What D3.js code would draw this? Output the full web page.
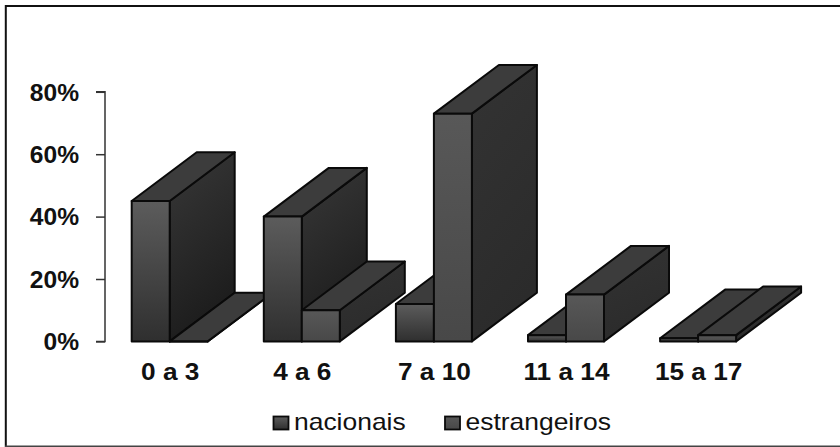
<!DOCTYPE html>
<html>
<head>
<meta charset="utf-8">
<script src="https://cdnjs.cloudflare.com/ajax/libs/d3/7.8.5/d3.min.js"></script>
<style>
  html, body { margin: 0; padding: 0; background: #fff; }
  svg { display: block; }
  text { font-family: "Liberation Sans", Arial, sans-serif; fill: #111; }
</style>
</head>
<body>
<svg id="chart" width="840" height="447"></svg>
<script>
const ageGroups = ["0 a 3", "4 a 6", "7 a 10", "11 a 14", "15 a 17"];
const seriesNames = ["nacionais", "estrangeiros"];
const nacionais = [45, 40, 12, 2, 1];
const estrangeiros = [0, 10, 73, 15, 2];
const yTicks = [0, 20, 40, 60, 80];

const svg = d3.select("#chart");
const defs = svg.append("defs");

// Vertical shading of the front faces, and diagonal shading of the side faces.
function addGradient(id, stops, x2, y2) {
  const g = defs.append("linearGradient").attr("id", id)
    .attr("x1", 0).attr("y1", 0).attr("x2", x2).attr("y2", y2);
  stops.forEach(([o, c]) => g.append("stop").attr("offset", o).attr("stop-color", c));
}
addGradient("frontNac", [[0, "#5c5c5c"], [1, "#2f2f2f"]], 0, 1);
addGradient("frontEst", [[0, "#585858"], [1, "#484848"]], 0, 1);
addGradient("sideNac", [[0, "#383838"], [1, "#1c1c1c"]], 0.3, 1);
addGradient("sideEst", [[0, "#333333"], [1, "#2b2b2b"]], 0.3, 1);

// Outer frame: left, top and bottom rules
svg.append("path").attr("d", "M841,6H5.8V447")
  .attr("fill", "none").attr("stroke", "#111").attr("stroke-width", 2);
svg.append("path").attr("d", "M5,446.3H840")
  .attr("fill", "none").attr("stroke", "#444").attr("stroke-width", 1.6);

const y = d3.scaleLinear().domain([0, 80]).range([341.4, 91.8]);
const x0 = d3.scaleLinear().domain([0, ageGroups.length]).range([131.7, 131.7 + 132.1 * ageGroups.length]);
const barW = 38;
const depthX = 65;
const depthY = 48.7;

// Y axis with outward ticks; labels are set slightly wide
const yAxis = d3.axisLeft(y).tickValues(yTicks).tickFormat(d => d + "%").tickSize(9).tickPadding(17);
const axisG = svg.append("g").attr("transform", "translate(105,0)").call(yAxis);
axisG.selectAll("path, line").attr("stroke", "#333").attr("stroke-width", 1.5);
axisG.select(".domain").attr("d", `M-9,${y(80)}H0V${y(0)}H-9`);
axisG.selectAll("text").attr("font-size", 23).attr("font-weight", "bold")
  .attr("x", 0).attr("dy", "0.36em")
  .attr("transform", "translate(-26,0) scale(1.07,1)")
  .style("font-family", '"Liberation Sans", Arial, sans-serif');

// One extruded bar: side and top faces first, then the front face.
function drawBar(g, left, value, frontFill, sideFill) {
  const line = d3.line();
  const top = y(value), base = y(0), right = left + barW;
  const faces = [
    { pts: [[right, top], [right + depthX, top - depthY], [right + depthX, base - depthY], [right, base]], fill: sideFill },
    { pts: [[left, top], [left + depthX, top - depthY], [right + depthX, top - depthY], [right, top]], fill: "#3c3c3c" },
    { pts: [[left, top], [right, top], [right, base], [left, base]], fill: frontFill }
  ];
  g.selectAll(null).data(faces).join("path")
    .attr("d", d => line(d.pts) + "Z")
    .attr("fill", d => d.fill)
    .attr("stroke", "#0a0a0a")
    .attr("stroke-width", 2)
    .attr("stroke-linejoin", "round");
}

const bars = svg.append("g");
ageGroups.forEach((_, i) => {
  drawBar(bars.append("g"), x0(i), nacionais[i], "url(#frontNac)", "url(#sideNac)");
  drawBar(bars.append("g"), x0(i) + barW, estrangeiros[i], "url(#frontEst)", "url(#sideEst)");
});

// Category labels, set wide
svg.append("g").selectAll("text").data(ageGroups).join("text")
  .attr("transform", (d, i) => `translate(${x0(i) + barW + 0.5},380) scale(1.14,1)`)
  .attr("text-anchor", "middle")
  .attr("font-size", 23)
  .attr("font-weight", "bold")
  .text(d => d);

// Legend
const legendX = [273, 444.5];
const legend = svg.append("g").selectAll("g").data(seriesNames).join("g")
  .attr("transform", (d, i) => `translate(${legendX[i]},0)`);
legend.append("rect").attr("x", 0.5).attr("y", 416.5).attr("width", 15).attr("height", 13)
  .attr("fill", (d, i) => i === 0 ? "url(#frontNac)" : "url(#frontEst)")
  .attr("stroke", "#0a0a0a").attr("stroke-width", 1.8);
legend.append("text")
  .attr("transform", "translate(21,430) scale(1.15,1)")
  .attr("font-size", 23).text(d => d);
</script>
</body>
</html>
